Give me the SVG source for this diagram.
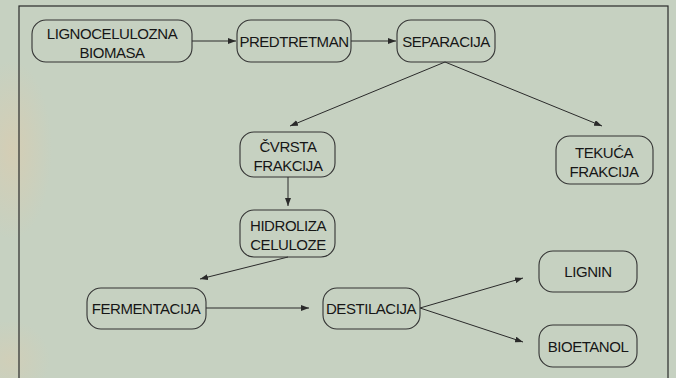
<svg xmlns="http://www.w3.org/2000/svg" width="676" height="378" viewBox="0 0 676 378">
<defs>
<marker id="ah" viewBox="0 0 8 6" refX="8" refY="3" markerWidth="8" markerHeight="6" markerUnits="userSpaceOnUse" orient="auto">
<path d="M0,0 L8,3 L0,6 Z" fill="#2a2a2a"/>
</marker>
<radialGradient id="rg" cx="0.5" cy="0.5" r="0.5">
<stop offset="0" stop-color="#d6cdb3" stop-opacity="0.9"/>
<stop offset="1" stop-color="#d6cdb3" stop-opacity="0"/>
</radialGradient>
</defs>
<style>
.n rect{fill:none;stroke:#333;stroke-width:1.1}
.n text{font-family:"Liberation Sans",Arial,sans-serif;font-size:15px;fill:#161616;text-anchor:middle;letter-spacing:-0.45px}
.c line{stroke:#2a2a2a;stroke-width:1;marker-end:url(#ah)}
</style>
<rect width="676" height="378" fill="#c6d1c1"/>
<ellipse cx="12" cy="150" rx="40" ry="90" fill="url(#rg)"/>
<ellipse cx="10" cy="360" rx="40" ry="40" fill="url(#rg)" opacity="0.7"/>
<rect x="19" y="6" width="649" height="390" fill="none" stroke="#2a2a2a" stroke-width="1.2"/>
<g class="c">
<line x1="192" y1="41" x2="236" y2="41"/>
<line x1="351" y1="41" x2="396" y2="41"/>
<line x1="445" y1="62" x2="290" y2="126"/>
<line x1="445" y1="62" x2="602" y2="126"/>
<line x1="288" y1="177" x2="288" y2="206"/>
<line x1="288" y1="257" x2="200" y2="279"/>
<line x1="206" y1="308" x2="309" y2="308"/>
<line x1="420" y1="308" x2="523" y2="278"/>
<line x1="420" y1="308" x2="523" y2="342"/>
</g>
<g id="n1" class="n"><rect x="32" y="20" width="160" height="42" rx="14"/><text x="112" y="39">LIGNOCELULOZNA</text><text x="112" y="58">BIOMASA</text></g>
<g id="n2" class="n"><rect x="237" y="20" width="114" height="42" rx="14"/><text x="294" y="47">PREDTRETMAN</text></g>
<g id="n3" class="n"><rect x="397" y="20" width="98" height="42" rx="14"/><text x="446" y="47">SEPARACIJA</text></g>
<g id="n4" class="n"><rect x="240" y="132" width="95" height="45" rx="14"/><text x="288" y="152">ČVRSTA</text><text x="288" y="171">FRAKCIJA</text></g>
<g id="n5" class="n"><rect x="556" y="136" width="97" height="48" rx="14"/><text x="604" y="158">TEKUĆA</text><text x="604" y="177">FRAKCIJA</text></g>
<g id="n6" class="n"><rect x="240" y="210" width="95" height="47" rx="14"/><text x="288" y="231">HIDROLIZA</text><text x="288" y="250">CELULOZE</text></g>
<g id="n7" class="n"><rect x="87" y="288" width="119" height="41" rx="14"/><text x="146" y="314">FERMENTACIJA</text></g>
<g id="n8" class="n"><rect x="323" y="288" width="97" height="41" rx="14"/><text x="371" y="314">DESTILACIJA</text></g>
<g id="n9" class="n"><rect x="539" y="251" width="98" height="41" rx="14"/><text x="588" y="277">LIGNIN</text></g>
<g id="n10" class="n"><rect x="539" y="325" width="98" height="42" rx="14"/><text x="588" y="352">BIOETANOL</text></g>
</svg>
